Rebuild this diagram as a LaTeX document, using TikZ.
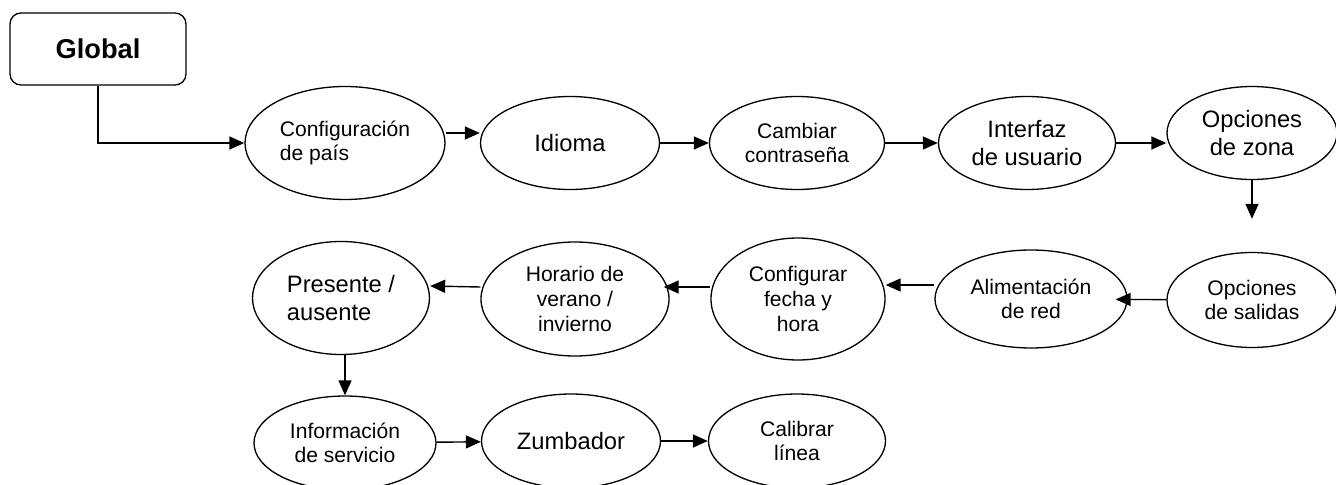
\documentclass[tikz,border=0pt]{standalone}
\usepackage{fontspec}
\setmainfont{Liberation Sans}
\usetikzlibrary{arrows.meta,positioning,shapes.geometric}

\begin{document}
\begin{tikzpicture}[
    every node/.style={font=\fontsize{12}{14}\selectfont},
    paso/.style={ellipse, draw, line width=0.75pt, inner sep=0pt, align=center},
    grande/.style={font=\fontsize{13.5}{15.5}\selectfont},
    caja/.style={rectangle, rounded corners=0.22cm, draw, line width=0.75pt,
                 minimum width=3.52cm, minimum height=1.44cm,
                 font=\fontsize{15.5}{18}\selectfont\bfseries},
    flecha/.style={-{Triangle[length=0.3cm, width=0.26cm]}, line width=0.8pt},
]
\useasboundingbox (0,0) rectangle (26.72,-9.7);

% -------- Inicio --------
\node[caja] (glob) at (1.96,-0.98) {Global};

% -------- Fila 1 --------
\node[paso, align=left, minimum width=4.0cm, minimum height=2.26cm]
  (pais) at (6.9,-2.86) {Configuración\\de país};
\node[paso, grande, minimum width=3.58cm, minimum height=1.86cm]
  (idioma) at (11.4,-2.86) {Idioma};
\node[paso, minimum width=3.5cm, minimum height=1.86cm]
  (clave) at (15.94,-2.86) {Cambiar\\contraseña};
\node[paso, grande, minimum width=3.54cm, minimum height=1.86cm]
  (interfaz) at (20.54,-2.86) {Interfaz\\de usuario};
\node[paso, grande, minimum width=3.4cm, minimum height=1.86cm]
  (zona) at (25.04,-2.66) {Opciones\\de zona};

% -------- Fila 2 --------
\node[paso, minimum width=3.4cm, minimum height=1.9cm]
  (salidas) at (25.04,-6.0) {Opciones\\de salidas};
\node[paso, minimum width=3.84cm, minimum height=1.96cm]
  (red) at (20.62,-5.98) {Alimentación\\de red};
\node[paso, minimum width=3.48cm, minimum height=2.44cm]
  (fecha) at (15.96,-5.98) {Configurar\\fecha y\\hora};
\node[paso, minimum width=3.76cm, minimum height=2.28cm]
  (horario) at (11.5,-5.98) {Horario de\\verano /\\invierno};
\node[paso, grande, align=left, minimum width=3.54cm, minimum height=2.26cm]
  (presente) at (6.82,-5.96) {Presente /\\ausente};

% -------- Fila 3 --------
\node[paso, minimum width=3.64cm, minimum height=1.88cm]
  (servicio) at (6.9,-8.86) {Información\\de servicio};
\node[paso, grande, minimum width=3.58cm, minimum height=1.88cm]
  (zumbador) at (11.42,-8.82) {Zumbador};
\node[paso, minimum width=3.54cm, minimum height=1.88cm]
  (calibrar) at (15.94,-8.82) {Calibrar\\línea};

% -------- Flechas --------
\draw[flecha] (glob.south) |- (pais.west);
\draw[flecha] ([yshift=0.2cm]pais.east) -- ([yshift=0.2cm]idioma.west);
\draw[flecha] (idioma) -- (clave);
\draw[flecha] (clave) -- (interfaz);
\draw[flecha] (interfaz.east) -- (interfaz.east -| zona.west);
\draw[flecha, shorten >=0.66cm] (zona.south) -- (salidas.north);
\draw[flecha, shorten >=-0.24cm] (salidas) -- (red);
\draw[flecha] ([yshift=0.28cm]red.west) -- ([yshift=0.28cm]fecha.east);
\draw[flecha, shorten >=-0.12cm] ([yshift=0.24cm]fecha.west) -- ([yshift=0.24cm]horario.east);
\draw[flecha] ([yshift=0.24cm]horario.west) -- ([yshift=0.24cm]presente.east);
\draw[flecha] (servicio.north |- presente.south) -- (servicio.north);
\draw[flecha] (servicio) -- (zumbador);
\draw[flecha] (zumbador) -- (calibrar);

\end{tikzpicture}
\end{document}
